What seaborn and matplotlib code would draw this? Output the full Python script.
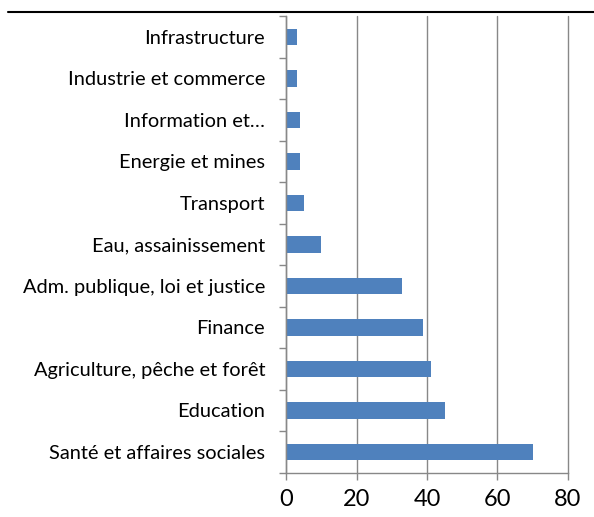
import matplotlib
matplotlib.use("Agg")
import matplotlib.pyplot as plt
from matplotlib.lines import Line2D
from matplotlib.ticker import FixedLocator
import seaborn as sns
import pandas as pd
import numpy as np

categories = ["Infrastructure", "Industrie et commerce", "Information et…",
              "Energie et mines", "Transport", "Eau, assainissement",
              "Adm. publique, loi et justice", "Finance",
              "Agriculture, pêche et forêt", "Education",
              "Santé et affaires sociales"]
values = [3, 3, 4, 4, 5, 10, 33, 39, 41, 45, 70]
x_ticks = [0, 20, 40, 60, 80]

sns.set_style("white")
plt.rcParams['font.family'] = ['Lato', 'DejaVu Sans']
plt.rcParams['text.color'] = 'black'
plt.rcParams['xtick.color'] = 'black'
plt.rcParams['ytick.color'] = 'black'

df = pd.DataFrame({"cat": categories, "val": values})

fig = plt.figure(figsize=(5.94, 5.17), dpi=100)
ax = fig.add_axes([0.4815, 0.0856, 0.4747, 0.883])
sns.barplot(data=df, x="val", y="cat", orient="h", color="#4F81BD",
            saturation=1, width=0.4, ax=ax, order=categories, linewidth=0)

ax.set_xlim(0, 80)
ax.set_ylim(len(categories) - 0.5, -0.5)
ax.set_xticks(x_ticks)
ax.set_xticklabels([str(t) for t in x_ticks], fontsize=17)
ax.set_xlabel("")
ax.set_ylabel("")
ax.tick_params(axis='y', which='major', length=0, labelsize=14.4, pad=15, labelcolor='black')
ax.yaxis.set_minor_locator(FixedLocator(np.arange(-0.5, len(categories), 1)))
ax.tick_params(axis='y', which='minor', length=5, color='#888888', width=1, direction='out', left=True)
ax.tick_params(axis='x', which='major', length=5, color='#888888', width=1, direction='out', bottom=True, pad=7, labelcolor='black')

ax.grid(axis='x', color='#888888', linewidth=1)
for gl in ax.get_xgridlines():
    gl.set_clip_on(False)
ax.set_axisbelow(True)
for s in ['top', 'right']:
    ax.spines[s].set_visible(False)
for s in ['left', 'bottom']:
    ax.spines[s].set_color('#888888')
    ax.spines[s].set_linewidth(1)

fig.add_artist(Line2D([8/594, 1.0], [1 - 12/517, 1 - 12/517], color='black', lw=1.5))

fig.savefig("out.png", dpi=100)
